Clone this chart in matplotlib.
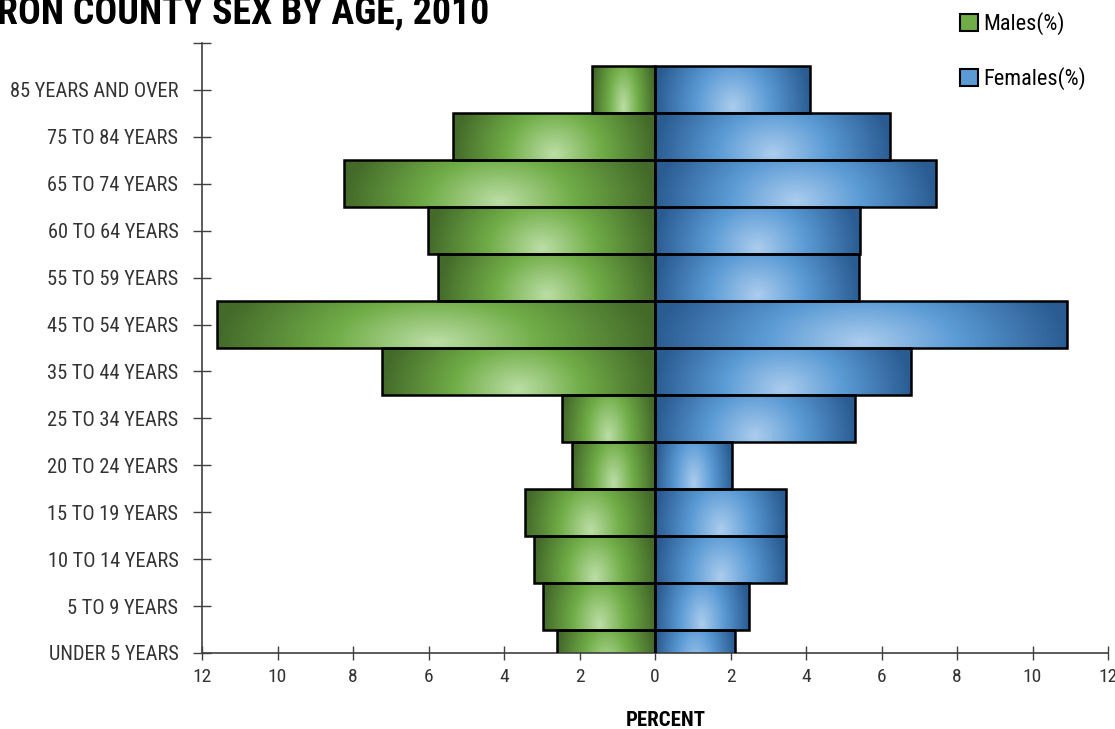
import numpy as np
import matplotlib
matplotlib.use("Agg")
import matplotlib.pyplot as plt
from matplotlib.patches import Patch
from matplotlib.colors import to_rgb
from matplotlib import font_manager as fm

# ---- data ----
age_groups = ["UNDER 5 YEARS", "5 TO 9 YEARS", "10 TO 14 YEARS", "15 TO 19 YEARS",
              "20 TO 24 YEARS", "25 TO 34 YEARS", "35 TO 44 YEARS", "45 TO 54 YEARS",
              "55 TO 59 YEARS", "60 TO 64 YEARS", "65 TO 74 YEARS", "75 TO 84 YEARS",
              "85 YEARS AND OVER"]
males_pct = [2.60, 2.97, 3.21, 3.45, 2.19, 2.46, 7.22, 11.59, 5.75, 6.02, 8.24, 5.34, 1.66]
females_pct = [2.13, 2.48, 3.48, 3.48, 2.05, 5.30, 6.77, 10.91, 5.41, 5.42, 7.44, 6.23, 4.11]
x_ticks = [-12, -10, -8, -6, -4, -2, 0, 2, 4, 6, 8, 10, 12]
title = "RON COUNTY SEX BY AGE, 2010"

GREEN = ("#446a2a", "#70ad47", "#bcdea6")
BLUE = ("#2a5c92", "#5b9bd5", "#accdee")

# ---- pick a narrow font if one exists ----
entries = fm.fontManager.ttflist
names = {f.name for f in entries}
FAMILY = 'DejaVu Sans'
STRETCH = 'normal'
for cand in ['Liberation Sans Narrow', 'Roboto Condensed', 'Open Sans Condensed',
             'Noto Sans Condensed']:
    if cand in names:
        FAMILY = cand
        break
else:
    for f in entries:
        if f.name in ('DejaVu Sans', 'Noto Sans', 'Open Sans', 'Roboto') and \
                str(f.stretch) in ('condensed', 'semi-condensed', 'extra-condensed', '75', '87.5', '62.5'):
            FAMILY = f.name
            STRETCH = 'condensed'
            break
plt.rcParams['font.family'] = [FAMILY, 'DejaVu Sans']
plt.rcParams['font.stretch'] = STRETCH


def gradient(cols, nx=256, ny=64):
    dark, mid, light = [np.array(to_rgb(c)) for c in cols]
    x = np.linspace(0, 1, nx)
    y = np.linspace(0, 1, ny)
    X, Y = np.meshgrid(x, y)
    u = (X - 0.5) / 0.5
    v = (Y - 0.88) / 2.0
    t = np.clip(np.sqrt(u ** 2 + v ** 2), 0, 1)
    img = np.zeros((ny, nx, 3))
    for k in range(3):
        img[..., k] = np.interp(t, [0, 0.47, 1.0], [light[k], mid[k], dark[k]])
    return img


W, H = 1115, 729
fig = plt.figure(figsize=(W / 100, H / 100), dpi=100)
renderer = fig.canvas.get_renderer()


def fit_size(text, target_px, base=20, weight='normal', maxsize=None):
    t = fig.text(0, 0, text, fontsize=base, fontweight=weight)
    w = t.get_window_extent(renderer).width
    t.remove()
    s = base * target_px / w
    if maxsize is not None:
        s = min(s, maxsize)
    return s


ylab_size = fit_size("85 YEARS AND OVER", 168, maxsize=15)
xlab_size = min(ylab_size, 14)
title_size = fit_size(title, 492, weight='bold', maxsize=30)
percent_size = fit_size("PERCENT", 81, weight='bold', maxsize=15)
legend_size = fit_size("Females(%)", 106, maxsize=16)

ax = fig.add_axes([202 / W, 1 - 653 / H, (1108 - 202) / W, (653 - 43) / H])

pos = np.arange(len(age_groups))
mbars = ax.barh(pos, -np.array(males_pct), height=1.0, left=0, facecolor='none',
                edgecolor='black', linewidth=1.8, zorder=3)
fbars = ax.barh(pos, np.array(females_pct), height=1.0, left=0, facecolor='none',
                edgecolor='black', linewidth=1.8, zorder=3)

gimg = gradient(GREEN)
bimg = gradient(BLUE)
for bars, img in ((mbars, gimg), (fbars, bimg)):
    for p in bars.patches:
        bb = p.get_bbox()
        x0, x1 = sorted([bb.x0, bb.x1])
        y0, y1 = sorted([bb.y0, bb.y1])
        ax.imshow(img, extent=(x0, x1, y0, y1), origin='upper', aspect='auto',
                  interpolation='bilinear', zorder=2)

ax.set_xlim(-12, 12)
ax.set_ylim(0, 13)
ax.set_aspect('auto')

ax.set_yticks(list(pos) + [13])
ax.set_yticklabels(age_groups + [""])
ax.set_xticks(x_ticks)
ax.set_xticklabels([str(abs(v)) for v in x_ticks])

for s in ('top', 'right'):
    ax.spines[s].set_visible(False)
for s in ('left', 'bottom'):
    ax.spines[s].set_color('#404040')
    ax.spines[s].set_linewidth(1.2)

ax.tick_params(axis='y', direction='inout', length=13, width=1, color='#404040',
               pad=10.5, labelsize=ylab_size, labelcolor='#333333')
ax.tick_params(axis='x', direction='inout', length=9.5, width=1, color='#404040',
               pad=6, labelsize=xlab_size, labelcolor='#333333')

fig.text(-3 / W, 1 - 23 / H, title, fontsize=title_size, fontweight='bold', ha='left',
         va='baseline', color='black')
fig.text(665.5 / W, 1 - 726 / H, "PERCENT", fontsize=percent_size, fontweight='bold',
         ha='center', va='baseline', color='black')

handles = [Patch(facecolor=GREEN[1], edgecolor='black', linewidth=1.5, label='Males(%)'),
           Patch(facecolor=BLUE[1], edgecolor='black', linewidth=1.5, label='Females(%)')]
fig.legend(handles=handles, loc='upper left', bbox_to_anchor=(960 / W, 1 - 12 / H),
           frameon=False, fontsize=legend_size, handlelength=0.8, handleheight=0.8,
           handletextpad=0.25, labelspacing=1.45, borderpad=0, borderaxespad=0)

fig.savefig("out.png", dpi=100)
